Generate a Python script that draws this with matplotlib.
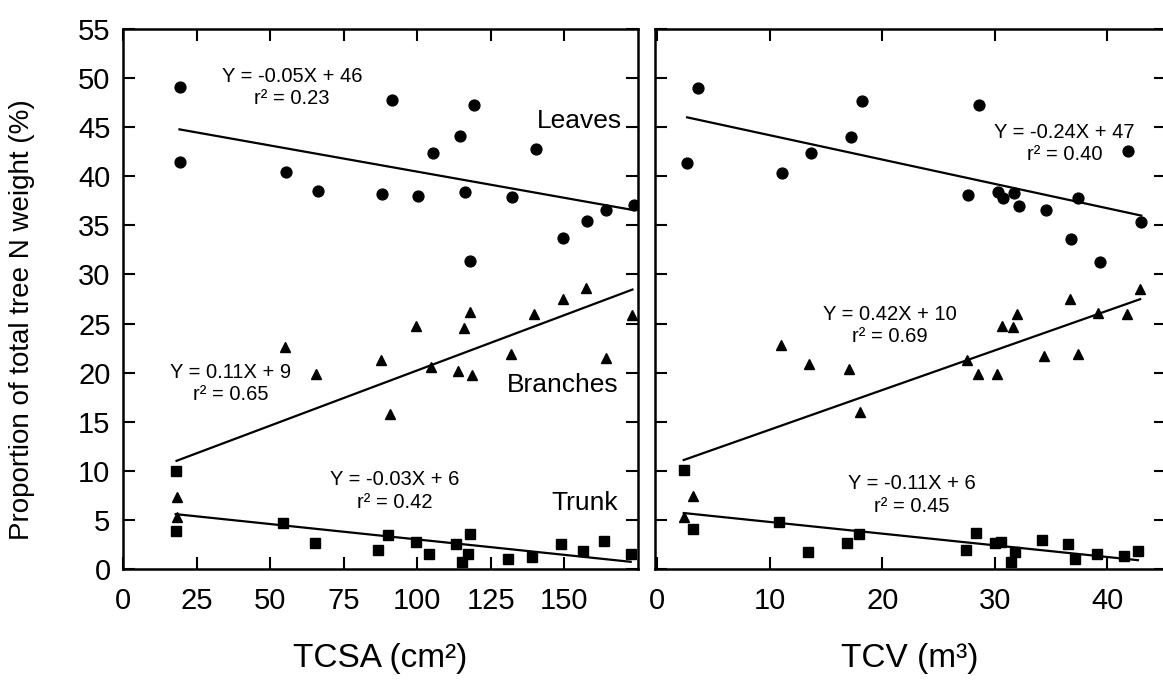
import matplotlib
matplotlib.use("Agg")
import matplotlib.pyplot as plt
import numpy as np

plt.rcParams['font.family'] = ['Liberation Sans', 'DejaVu Sans']

# TCSA panel (cm2)
tcsa_leaves_x = [19.4, 19.2, 55.4, 66.3, 87.9, 91.5, 100.4, 105.2, 114.4, 116.1, 119.3, 118.0, 132.1, 140.2, 149.6, 157.5, 164.2, 173.5]
tcsa_leaves_y = [49.1, 41.5, 40.4, 38.5, 38.2, 47.8, 38.0, 42.4, 44.1, 38.4, 47.3, 31.4, 37.9, 42.8, 33.7, 35.4, 36.6, 37.1]
tcsa_branches_x = [18.2, 18.2, 55.1, 65.6, 87.6, 90.7, 99.7, 104.6, 113.7, 115.9, 118.0, 118.7, 131.7, 139.6, 149.6, 157.3, 164.0, 173.1]
tcsa_branches_y = [7.3, 5.3, 22.6, 19.9, 21.3, 15.8, 24.7, 20.6, 20.2, 24.5, 26.2, 19.8, 21.9, 26.0, 27.5, 28.6, 21.5, 25.9]
tcsa_trunk_x = [17.9, 17.9, 54.5, 65.4, 86.5, 90.0, 99.5, 104.1, 113.1, 115.3, 117.1, 118.0, 130.9, 139.0, 148.8, 156.4, 163.4, 172.5]
tcsa_trunk_y = [10.0, 3.9, 4.7, 2.6, 1.9, 3.5, 2.7, 1.5, 2.5, 0.7, 1.5, 3.6, 1.0, 1.25, 2.5, 1.8, 2.9, 1.5]

# TCV panel (m3)
tcv_leaves_x = [2.65, 3.6, 11.1, 13.7, 17.2, 18.2, 27.6, 28.6, 30.3, 30.7, 31.7, 32.1, 34.5, 36.8, 37.4, 39.3, 41.8, 43.0]
tcv_leaves_y = [41.4, 49.0, 40.3, 42.4, 44.0, 47.7, 38.1, 47.3, 38.4, 37.8, 38.3, 37.0, 36.6, 33.6, 37.8, 31.3, 42.6, 35.3]
tcv_branches_x = [2.35, 3.2, 11.0, 13.5, 17.0, 18.0, 27.5, 28.5, 30.2, 30.6, 31.6, 32.0, 34.4, 36.7, 37.4, 39.2, 41.7, 42.9]
tcv_branches_y = [5.3, 7.4, 22.8, 20.9, 20.4, 16.0, 21.3, 19.9, 19.9, 24.8, 24.6, 26.0, 21.7, 27.5, 21.9, 26.1, 26.0, 28.5]
tcv_trunk_x = [2.35, 3.2, 10.8, 13.4, 16.9, 17.9, 27.4, 28.3, 30.0, 30.5, 31.4, 31.8, 34.2, 36.5, 37.1, 39.1, 41.5, 42.7]
tcv_trunk_y = [10.1, 4.1, 4.8, 1.7, 2.6, 3.6, 1.9, 3.65, 2.6, 2.7, 0.7, 1.7, 3.0, 2.5, 1.05, 1.5, 1.35, 1.8]

# regression lines (slope, intercept) as drawn
tcsa_fits = {"leaves": (-0.0533, 45.8), "branches": (0.1126, 8.97), "trunk": (-0.0314, 6.15)}
tcv_fits = {"leaves": (-0.248, 46.66), "branches": (0.404, 10.15), "trunk": (-0.119, 5.98)}

tcsa_eqs = ["Y = -0.05X + 46\nr\u00b2 = 0.23", "Y = 0.11X + 9\nr\u00b2 = 0.65", "Y = -0.03X + 6\nr\u00b2 = 0.42"]
tcv_eqs = ["Y = -0.24X + 47\nr\u00b2 = 0.40", "Y = 0.42X + 10\nr\u00b2 = 0.69", "Y = -0.11X + 6\nr\u00b2 = 0.45"]

fig = plt.figure(figsize=(11.63, 6.95), dpi=100)
ax1 = fig.add_axes([123/1163, 126/695, 515/1163, 540/695])
ax2 = fig.add_axes([655/1163, 126/695, 511/1163, 540/695])


def draw_panel(ax, series, fits):
    for (x, y, mk, ms), key in zip(series, ["leaves", "branches", "trunk"]):
        ax.plot(x, y, linestyle="none", marker=mk, markersize=ms, color="black")
        slope, icpt = fits[key]
        xs = np.array([min(x), max(x)])
        ax.plot(xs, slope * xs + icpt, color="black", linewidth=1.6)
    ax.set_ylim(0, 55)
    ax.set_yticks(np.arange(0, 56, 5))
    ax.tick_params(direction="in", length=8.5, width=1.5, top=True, right=True,
                   labelsize=21)
    ax.tick_params(axis="x", pad=13)
    ax.tick_params(axis="y", pad=9)
    for s in ax.spines.values():
        s.set_linewidth(1.8)


draw_panel(ax1, [(tcsa_leaves_x, tcsa_leaves_y, "o", 7.8),
                 (tcsa_branches_x, tcsa_branches_y, "^", 7.8),
                 (tcsa_trunk_x, tcsa_trunk_y, "s", 6.5)], tcsa_fits)
draw_panel(ax2, [(tcv_leaves_x, tcv_leaves_y, "o", 7.8),
                 (tcv_branches_x, tcv_branches_y, "^", 7.8),
                 (tcv_trunk_x, tcv_trunk_y, "s", 6.5)], tcv_fits)

ax1.set_xlim(0, 175)
ax1.set_xticks([0, 25, 50, 75, 100, 125, 150])
ax2.set_xlim(-0.2, 45.2)
ax2.set_xticks([0, 10, 20, 30, 40])
ax2.tick_params(labelleft=False)

eq_kw = dict(fontsize=14.5, ha="center", va="center", multialignment="center", linespacing=1.25)
ax1.text(57.4, 49.05, tcsa_eqs[0], **eq_kw)
ax1.text(36.7, 18.9, tcsa_eqs[1], **eq_kw)
ax1.text(92.4, 7.95, tcsa_eqs[2], **eq_kw)
ax2.text(36.2, 43.35, tcv_eqs[0], **eq_kw)
ax2.text(20.7, 24.8, tcv_eqs[1], **eq_kw)
ax2.text(22.6, 7.5, tcv_eqs[2], **eq_kw)

ax1.text(169.6, 45.6, "Leaves", fontsize=19, ha="right", va="center")
ax1.text(168.4, 18.7, "Branches", fontsize=19, ha="right", va="center")
ax1.text(168.2, 6.7, "Trunk", fontsize=19, ha="right", va="center")

fig.text(380/1163, 1 - 658/695, "TCSA (cm\u00b2)", fontsize=24, ha="center", va="center")
fig.text(910/1163, 1 - 658/695, "TCV (m\u00b3)", fontsize=24, ha="center", va="center")
fig.text(22/1163, 1 - 320/695, "Proportion of total tree N weight (%)", fontsize=20,
         rotation=90, ha="center", va="center")

plt.savefig("out.png", dpi=100)
